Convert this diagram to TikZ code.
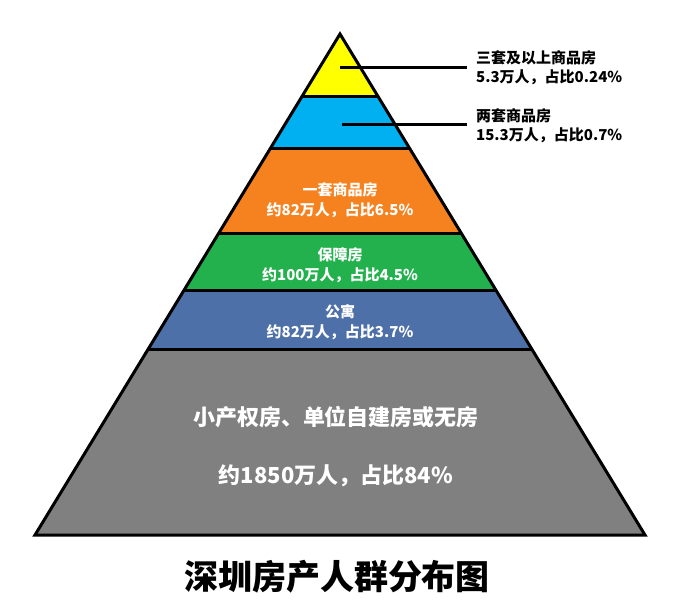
\documentclass[tikz,border=0pt]{standalone}
\usepackage{fontspec}
\newfontfamily\cjk{Noto Sans CJK SC}
\usetikzlibrary{calc,positioning}

\definecolor{bandyellow}{HTML}{FFFF00}
\definecolor{bandcyan}{HTML}{00B0F0}
\definecolor{bandorange}{HTML}{F5821F}
\definecolor{bandgreen}{HTML}{22B14C}
\definecolor{bandblue}{HTML}{4E70A8}
\definecolor{bandgray}{HTML}{808080}

\begin{document}
\begin{tikzpicture}[
    x=1pt, y=-1pt,
    layerline/.style={line width=3pt, line join=miter},
    leader/.style={line width=3pt},
    inlabel/.style={text=white, font=\cjk\bfseries\fontsize{15}{20}\selectfont, align=center, inner sep=0pt},
    outlabel/.style={anchor=west, font=\cjk\bfseries\fontsize{15}{19}\selectfont, align=left, inner xsep=9pt, inner ysep=0pt},
    baselabel/.style={text=white, font=\cjk\bfseries\fontsize{22}{26}\selectfont, inner sep=0pt},
    titlelabel/.style={font=\cjk\bfseries\fontsize{34}{40}\selectfont, inner sep=0pt}
]
\useasboundingbox (0,0) rectangle (673,604);

% pyramid corners
\coordinate (apex) at (340,34);
\coordinate (baseleft) at (35,535);
\coordinate (baseright) at (645,535);

% coloured layers, top to bottom
\foreach \ta/\tb/\col in {0/0.1257/bandyellow, 0.1257/0.2295/bandcyan, 0.2295/0.3992/bandorange,
    0.3992/0.5110/bandgreen, 0.5110/0.6307/bandblue, 0.6307/1/bandgray}
  \fill[\col] ($(apex)!\ta!(baseleft)$) -- ($(apex)!\ta!(baseright)$)
    -- ($(apex)!\tb!(baseright)$) -- ($(apex)!\tb!(baseleft)$) -- cycle;

\foreach \t in {0.1257,0.2295,0.3992,0.5110,0.6307}
  \draw[layerline] ($(apex)!\t!(baseleft)$) -- ($(apex)!\t!(baseright)$);
\draw[layerline] (apex) -- (baseright) -- (baseleft) -- cycle;

% labels inside the layers
\node[inlabel] (onehome) at (340,200) {一套商品房\\约82万人，占比6.5\%};
\node[inlabel] (afford) at (340,265) {保障房\\约100万人，占比4.5\%};
\node[inlabel] (flat) at (340,322) {公寓\\约82万人，占比3.7\%};
\node[baselabel] (nohome) at (336,417) {小产权房、单位自建房或无房};
\node[baselabel] (nohomeshare) at (336,476) {约1850万人，占比84\%};

% labels on the right
\coordinate (threept) at (340,68);
\coordinate (twopt) at (342,125);
\node[outlabel] (threehomes) at (467,68) {三套及以上商品房\\5.3万人，占比0.24\%};
\node[outlabel] (twohomes) at (467,126) {两套商品房\\15.3万人，占比0.7\%};
\draw[leader] (threept) -- (threept -| threehomes.west);
\draw[leader] (twopt) -- (twopt -| twohomes.west);

\node[titlelabel] (title) at (337,577) {深圳房产人群分布图};
\end{tikzpicture}
\end{document}
